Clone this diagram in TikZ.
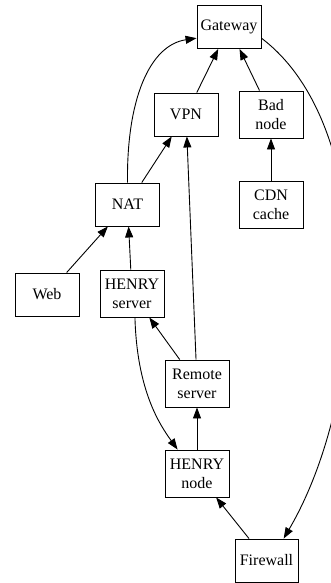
\documentclass[tikz,border=0pt]{standalone}
\usepackage{fontspec}
\setmainfont{Liberation Serif}
\usetikzlibrary{arrows.meta}
\tikzset{
  box/.style={draw, line width=0.9pt, minimum width=64pt, minimum height=43pt, inner sep=2pt, align=center, font=\fontsize{16}{19}\selectfont},
  box2/.style={box, minimum height=47pt},
  edge/.style={line width=0.9pt, -{Triangle[length=11pt,width=8pt]}}
}
\begin{document}
\begin{tikzpicture}[x=1pt,y=-1pt]
\useasboundingbox (0,0) rectangle (330,583);
\node[box]  (gw)  at (229,27)    {Gateway};
\node[box]  (vpn) at (186,114.5) {VPN};
\node[box2] (bad) at (271,114.5) {Bad\\node};
\node[box]  (nat) at (127.5,204.5) {NAT};
\node[box2] (cdn) at (271,204.5) {CDN\\cache};
\node[box]  (web) at (47,294.5)  {Web};
\node[box2] (hs)  at (132,293.5) {HENRY\\server};
\node[box2] (rs)  at (197,383.5) {Remote\\server};
\node[box2] (hn)  at (197,473.5) {HENRY\\node};
\node[box, minimum width=63pt] (fw) at (266.5,560.5) {Firewall};

\draw[edge] (vpn) -- (gw);
\draw[edge] (bad) -- (gw);
\draw[edge] (nat) -- (vpn);
\draw[edge] (rs) -- (vpn);
\draw[edge] (cdn) -- (bad);
\draw[edge] (web) -- (nat);
\draw[edge] (hs) -- (nat);
\draw[edge] (rs) -- (hs);
\draw[edge] (hn) -- (rs);
\draw[edge] (fw) -- (hn);
\draw[edge] (nat.north) .. controls +(-1,-83) and +(-47,7) .. (gw.199);
\draw[edge] (hs.-83) .. controls +(2,73) and +(-18,-25) .. (hn.129);
\draw[edge] (gw.-19) .. controls +(119,90) and +(85,-145) .. (fw.52);
\end{tikzpicture}
\end{document}
